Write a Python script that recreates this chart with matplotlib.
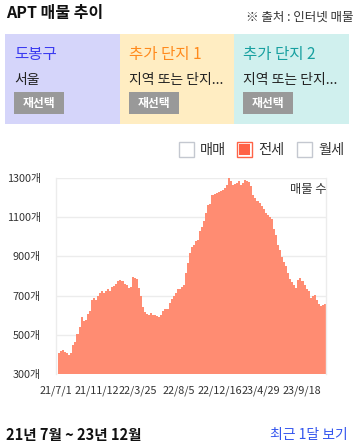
"""APT listing trend card: jeonse listing counts, 21/7 ~ 23/12."""
import matplotlib
matplotlib.use("Agg")
import matplotlib.pyplot as plt
from matplotlib.patches import Rectangle

plt.rcParams["font.family"] = ["Noto Sans CJK KR", "DejaVu Sans"]

W, H = 358, 447
FILL = "#ff8c72"
TEXT = "#222222"
GRID = "#ececec"

# weekly jeonse listing counts
counts = [
    406, 415, 420, 410, 408, 398, 405, 448, 465, 505,
    540, 592, 568, 576, 608, 620, 680, 690, 680, 700,
    715, 722, 712, 725, 732, 722, 742, 750, 758, 775,
    782, 775, 758, 752, 740, 745, 793, 789, 785, 738,
    700, 640, 615, 604, 600, 612, 602, 603, 598, 591,
    600, 620, 630, 634, 660, 682, 698, 712, 735, 732,
    745, 755, 815, 865, 915, 946, 957, 978, 986, 1030,
    1052, 1080, 1120, 1160, 1165, 1215, 1220, 1221, 1228, 1232,
    1240, 1248, 1262, 1300, 1284, 1262, 1270, 1273, 1286, 1263,
    1272, 1290, 1285, 1280, 1260, 1215, 1200, 1183, 1170, 1155,
    1142, 1122, 1110, 1100, 1090, 1038, 1010, 960, 933, 895,
    870, 852, 815, 785, 770, 752, 740, 780, 790, 772,
    752, 732, 722, 690, 697, 702, 675, 658, 645, 652,
    656,
]
tick_labels = ["21/7/1", "21/11/12", "22/3/25", "22/8/5", "22/12/16", "23/4/29", "23/9/18"]
tick_step = 20
y_ticks = [300, 500, 700, 900, 1100, 1300]

panel_titles = ["도봉구", "추가 단지 1", "추가 단지 2"]
panel_subs = ["서울", "지역 또는 단지...", "지역 또는 단지..."]
panel_bg = ["#d5d5fa", "#ffedc2", "#d0f0ee"]
panel_fg = ["#3b3bf0", "#ff8a1c", "#17a0a0"]
legend_items = ["매매", "전세", "월세"]
legend_on = [False, True, False]


def fx(x):
    return x / W


def fy(y):
    return 1 - y / H


fig = plt.figure(figsize=(W / 100, H / 100), dpi=100)
fig.patch.set_facecolor("white")

# header
fig.text(fx(6), fy(13), "APT 매물 추이", fontsize=11.5, fontweight="bold",
         color="#111111", va="center", ha="left")
fig.text(fx(354), fy(17), "※ 출처 : 인터넷 매물", fontsize=9,
         color="#333333", va="center", ha="right")

# selection panels
px0 = [5, 120, 234]
pw = [115, 114, 115]
for x0, w, bg, fg, title, sub in zip(px0, pw, panel_bg, panel_fg, panel_titles, panel_subs):
    fig.add_artist(Rectangle((fx(x0), fy(124)), w / W, 90 / H,
                             transform=fig.transFigure, facecolor=bg, edgecolor="none"))
    fig.text(fx(x0 + 9), fy(55), title, fontsize=11.2, color=fg, va="center", ha="left",
             fontweight="medium")
    fig.text(fx(x0 + 9), fy(80), sub, fontsize=10, color=TEXT, va="center", ha="left")
    fig.add_artist(Rectangle((fx(x0 + 9), fy(114)), 50 / W, 22 / H,
                             transform=fig.transFigure, facecolor="#999999", edgecolor="none"))
    fig.text(fx(x0 + 34), fy(103), "재선택", fontsize=8.5, color="white", va="center",
             ha="center", fontweight="bold")

# legend checkboxes
box_x = [179, 237, 297]
for bx, label, on in zip(box_x, legend_items, legend_on):
    if on:
        fig.add_artist(Rectangle((fx(bx), fy(157)), 15 / W, 15 / H, transform=fig.transFigure,
                                 facecolor="white", edgecolor="#ff6347", linewidth=1.0))
        fig.add_artist(Rectangle((fx(bx + 2), fy(155)), 11 / W, 11 / H,
                                 transform=fig.transFigure, facecolor="#ff6347",
                                 edgecolor="none"))
    else:
        fig.add_artist(Rectangle((fx(bx), fy(157)), 15 / W, 15 / H, transform=fig.transFigure,
                                 facecolor="white", edgecolor="#c4c8d0", linewidth=1.0))
    fig.text(fx(bx + 21), fy(150), label, fontsize=10.3, color="#333333",
             va="center", ha="left")

# chart
ax = fig.add_axes([fx(56), fy(374), 270 / W, (374 - 178) / H])
idx = list(range(len(counts)))
ax.bar(idx, counts, width=1.0, color=FILL, linewidth=0, zorder=2)
ax.set_xlim(-0.5, len(counts) - 0.5)
ax.set_ylim(y_ticks[0], y_ticks[-1])
ax.set_yticks(y_ticks)
ax.set_yticklabels([f"{v}개" for v in y_ticks])
ax.set_xticks([i * tick_step - 1.5 for i in range(len(tick_labels))])
ax.set_xticklabels(tick_labels)
ax.tick_params(axis="both", length=0, labelsize=7.8, colors="#333333")
ax.tick_params(axis="y", pad=11)
ax.tick_params(axis="x", pad=8)
ax.yaxis.grid(True, color=GRID, linewidth=1.0, zorder=0)
ax.set_axisbelow(True)
for side in ["top", "bottom"]:
    ax.spines[side].set_visible(False)
for side in ["left", "right"]:
    ax.spines[side].set_color(GRID)
    ax.spines[side].set_linewidth(1.0)
ax.text(1.0, 0.94, "매물 수", transform=ax.transAxes, ha="right", va="center",
        fontsize=8.8, color="#333333", zorder=3)

# footer
fig.text(fx(6), fy(435), "21년 7월 ~ 23년 12월", fontsize=10.5, fontweight="bold",
         color="#111111", va="center", ha="left")
fig.text(fx(348), fy(435), "최근 1달 보기", fontsize=10, color="#3355ee",
         va="center", ha="right")

fig.savefig("out.png", dpi=100, facecolor="white")
